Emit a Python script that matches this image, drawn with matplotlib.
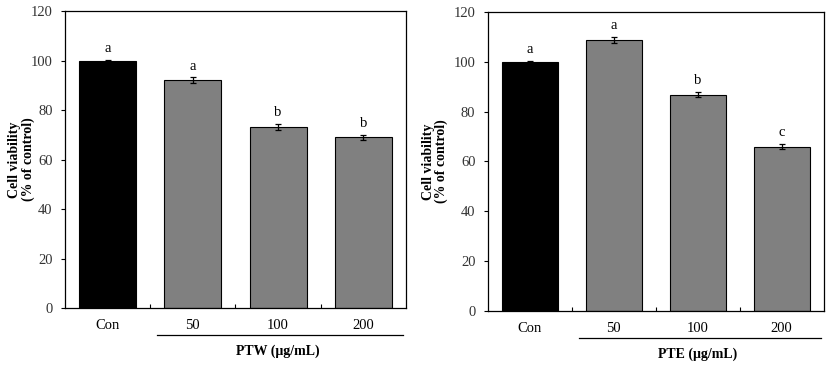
import numpy as np
import matplotlib
matplotlib.use("Agg")
import matplotlib.pyplot as plt

plt.rcParams['font.family'] = ['Liberation Serif', 'DejaVu Serif']

# data
categories = ['Con', '50', '100', '200']
ptw_values = [100.0, 92.0, 73.1, 69.0]
ptw_errors = [0.4, 1.2, 1.3, 0.9]
ptw_letters = ['a', 'a', 'b', 'b']
pte_values = [100.0, 109.0, 86.9, 65.9]
pte_errors = [0.6, 1.2, 1.0, 1.0]
pte_letters = ['a', 'a', 'b', 'c']
y_ticks = [0, 20, 40, 60, 80, 100, 120]

bar_colors = ['black', '#808080', '#808080', '#808080']

fig = plt.figure(figsize=(8.27, 3.72), dpi=100)
ax1 = fig.add_axes([0.0786, 0.172, 0.4123, 0.798])
ax2 = fig.add_axes([0.590, 0.165, 0.406, 0.802])


def draw_panel(ax, values, errors, letters, xlabel, label_x):
    x = np.arange(len(categories))
    ax.bar(x, values, width=0.67, color=bar_colors, edgecolor='black', linewidth=0.8, zorder=2)
    ax.errorbar(x, values, yerr=errors, fmt='none', ecolor='black',
                elinewidth=0.9, capsize=2.5, capthick=0.9, zorder=3)
    for xi, v, e, s in zip(x, values, errors, letters):
        ax.text(xi, v + e + 2.0, s, ha='center', va='bottom', fontsize=10.5)
    ax.set_xlim(-0.5, len(categories) - 0.5)
    ax.set_ylim(0, 120)
    ax.set_yticks(y_ticks)
    ax.set_yticklabels([str(t) for t in y_ticks], fontsize=10.5, color='#333333')
    ax.set_xticks(x)
    ax.set_xticklabels(categories, fontsize=10.5)
    ax.tick_params(axis='x', which='major', length=0, pad=8)
    ax.set_xticks(x[:-1] + 0.5, minor=True)
    ax.tick_params(axis='x', which='minor', direction='in', length=3, width=0.8)
    ax.tick_params(axis='y', direction='out', length=3, width=0.8, pad=6)
    for sp in ax.spines.values():
        sp.set_linewidth(0.9)
    ax.set_ylabel('Cell viability\n(% of control)', fontsize=10, fontweight='bold',
                  linespacing=1.0, va='center')
    ax.yaxis.set_label_coords(label_x, 0.5)
    # bracket line under the dose groups
    ax.plot([0.58, 3.47], [-11, -11], color='black', linewidth=0.9,
            clip_on=False, transform=ax.transData)
    ax.text(2.0, -17.5, xlabel, ha='center', va='center', fontsize=10,
            fontweight='bold', transform=ax.transData)


draw_panel(ax1, ptw_values, ptw_errors, ptw_letters, 'PTW (μg/mL)', -0.128)
draw_panel(ax2, pte_values, pte_errors, pte_letters, 'PTE (μg/mL)', -0.158)

fig.savefig('out.png', dpi=100, facecolor='white')
